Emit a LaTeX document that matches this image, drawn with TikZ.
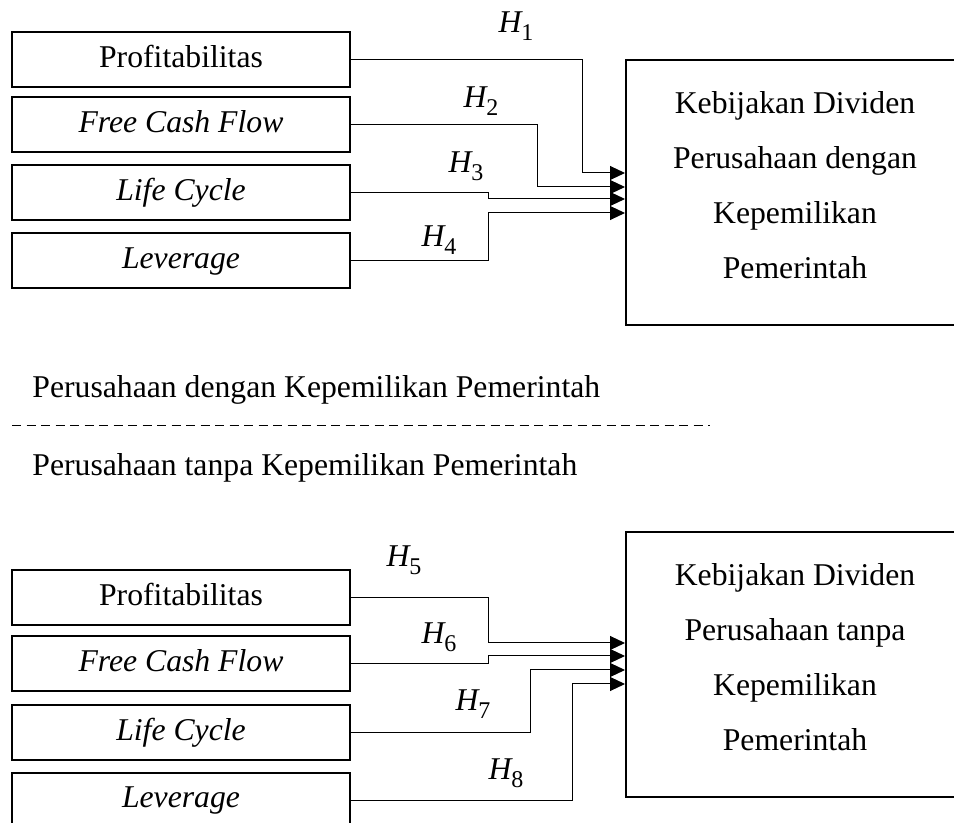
\documentclass[tikz,border=0pt]{standalone}
\usepackage{fontspec}
\setmainfont{Liberation Serif}
\usetikzlibrary{arrows.meta,positioning,calc}
\newcommand{\hlab}[1]{{\itshape H}\raisebox{-4pt}{\fontsize{12pt}{12pt}\selectfont #1}}

\begin{document}
\begin{tikzpicture}[
  x=0.5pt,y=-0.5pt,
  font=\fontsize{15.85pt}{19pt}\selectfont,
  var/.style={rectangle,draw,line width=1pt,minimum width=169pt,minimum height=27.5pt,inner sep=0pt,text height=1em,text depth=0.21em},
  dv/.style={rectangle,draw,line width=1pt,minimum width=169pt,minimum height=132.5pt},
  dvtxt/.style={align=center,inner sep=0pt,font=\fontsize{15.85pt}{27.5pt}\selectfont},
  arr/.style={-{Triangle[length=7.5pt,width=7pt]},line width=0.5pt},
  hyp/.style={anchor=base,inner sep=0pt},
  grp/.style={anchor=base west,inner sep=0pt},
  sep/.style={line width=0.5pt,dash pattern=on 4.5pt off 2.75pt}
]
\useasboundingbox (0,0) rectangle (954,823);
% government-owned firms
\node[var] (prof1) at (181,59.5) {Profitabilitas};
\node[var] (fcf1) at (181,125) {\itshape Free Cash Flow};
\node[var] (lc1) at (181,192.5) {\itshape Life Cycle};
\node[var] (lev1) at (181,261) {\itshape Leverage};
\node[dv] (dvd1) at (795,192.5) {};
\node[dvtxt] (dvt1) at (795,185) {Kebijakan Dividen\\Perusahaan dengan\\Kepemilikan\\Pemerintah};
\draw[arr] (prof1.east) -| (582,173) -- (dvd1.west |- 582,173);
\draw[arr] (fcf1.east) -| (537,187) -- (dvd1.west |- 537,187);
\draw[arr] (lc1.east) -| (488,199) -- (dvd1.west |- 488,199);
\draw[arr] (lev1.east) -| (488,213) -- (dvd1.west |- 488,213);
\node[hyp] (h1) at (516,33) {\hlab{1}};
\node[hyp] (h2) at (481,108) {\hlab{2}};
\node[hyp] (h3) at (466,173) {\hlab{3}};
\node[hyp] (h4) at (439,247) {\hlab{4}};
% separator
\node[grp] (g1) at (32,398) {Perusahaan dengan Kepemilikan Pemerintah};
\draw[sep] (12,426) -- (710,426);
\node[grp] (g2) at (32,476) {Perusahaan tanpa Kepemilikan Pemerintah};
% non-government firms
\node[var] (prof2) at (181,598) {Profitabilitas};
\node[var] (fcf2) at (181,664) {\itshape Free Cash Flow};
\node[var] (lc2) at (181,732.5) {\itshape Life Cycle};
\node[var] (lev2) at (181,800) {\itshape Leverage};
\node[dv] (dvd2) at (795,664.5) {};
\node[dvtxt] (dvt2) at (795,657) {Kebijakan Dividen\\Perusahaan tanpa\\Kepemilikan\\Pemerintah};
\draw[arr] (prof2.east) -| (488,643) -- (dvd2.west |- 488,643);
\draw[arr] (fcf2.east) -| (488,656) -- (dvd2.west |- 488,656);
\draw[arr] (lc2.east) -| (530,670) -- (dvd2.west |- 530,670);
\draw[arr] (lev2.east) -| (572,684) -- (dvd2.west |- 572,684);
\node[hyp] (h5) at (404,567) {\hlab{5}};
\node[hyp] (h6) at (439,644) {\hlab{6}};
\node[hyp] (h7) at (473,711) {\hlab{7}};
\node[hyp] (h8) at (506,779) {\hlab{8}};
\end{tikzpicture}
\end{document}
